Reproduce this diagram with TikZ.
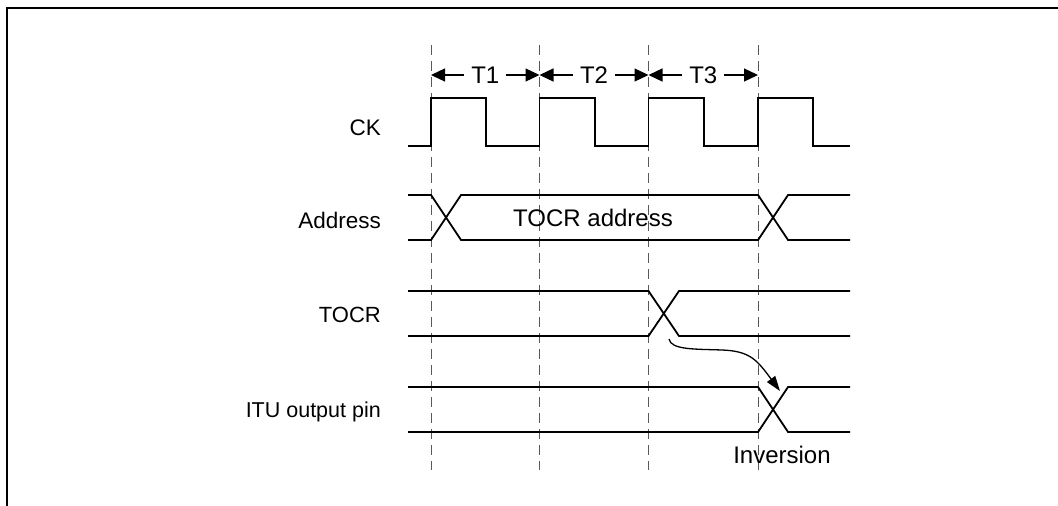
\documentclass[tikz,border=0pt]{standalone}
\usepackage{fontspec}
\setmainfont{Liberation Sans}
\usetikzlibrary{arrows.meta}
\begin{document}
\begin{tikzpicture}[x=1pt,y=-1pt,
  sig/.style={line width=1.8pt,line join=miter},
  guide/.style={line width=1pt,draw=black!65,dash pattern=on 10pt off 6pt},
  lbl/.style={anchor=base east,inner sep=0pt,font=\fontsize{22.5}{26}\selectfont},
  txt/.style={inner sep=0pt,font=\fontsize{24}{28}\selectfont},
  span/.style={line width=1.3pt,{Triangle[length=14pt,width=13pt]}-{Triangle[length=14pt,width=13pt]}},
  flow/.style={line width=1.3pt,-{Triangle[length=15pt,width=10pt]}}]
\useasboundingbox (0,0) rectangle (1058,506);
% frame
\draw[line width=1.6pt] (7,506) -- (7,8) -- (1058,8);
% guide lines
\foreach \gx/\gn in {431/g1,539.5/g2,648.5/g3,758/g4}{
  \coordinate (\gn t) at (\gx,45);
  \coordinate (\gn b) at (\gx,470);
  \draw[guide] (\gn t) -- (\gn b);
}
% period arrows
\draw[span] (431,75) -- node[txt,fill=white,inner xsep=7pt] (t1) {T1} (539.5,75);
\draw[span] (539.5,75) -- node[txt,fill=white,inner xsep=7pt] (t2) {T2} (648.5,75);
\draw[span] (648.5,75) -- node[txt,fill=white,inner xsep=7pt] (t3) {T3} (758,75);
% labels
\node[lbl] (ck) at (381,135) {CK};
\node[lbl] (addr) at (381,228) {Address};
\node[lbl,font=\fontsize{22}{26}\selectfont] (tocr) at (381,322) {TOCR};
\node[lbl,font=\fontsize{21.5}{25}\selectfont] (itu) at (381,417) {ITU output pin};
% CK
\draw[sig] (408,146) -- (431,146) -- (431,98) -- (486,98) -- (486,146) -- (539.5,146) -- (539.5,98)
  -- (595,98) -- (595,146) -- (648.5,146) -- (648.5,98) -- (704,98) -- (704,146) -- (758,146)
  -- (758,98) -- (813,98) -- (813,146) -- (850,146);
% Address
\draw[sig] (408,195) -- (431,195) -- (461,240) -- (758,240) -- (788,195) -- (850,195);
\draw[sig] (408,240) -- (431,240) -- (461,195) -- (758,195) -- (788,240) -- (850,240);
\node[txt] (addrval) at (593,218) {TOCR address};
% TOCR
\draw[sig] (408,291) -- (648.5,291) -- (679,336) -- (850,336);
\draw[sig] (408,336) -- (648.5,336) -- (679,291) -- (850,291);
% ITU output pin
\draw[sig] (408,387) -- (758,387) -- (788,432) -- (850,432);
\draw[sig] (408,432) -- (758,432) -- (788,387) -- (850,387);
% cause arrow
\coordinate (cs) at (669,339);
\coordinate (ce) at (780,391);
\draw[flow] (cs) .. controls (671,350) and (695,349) .. (722,350)
  .. controls (750,351) and (757,360) .. (ce);
\node[txt,anchor=base] (inv) at (782,463) {Inversion};
\end{tikzpicture}
\end{document}
